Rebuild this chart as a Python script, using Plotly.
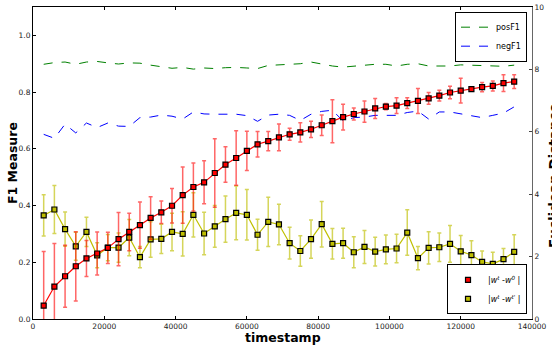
import plotly.graph_objects as go

timestamps = list(range(3000, 135001, 3000))

pos_f1 = [0.898, 0.904, 0.906, 0.898, 0.906, 0.908, 0.903, 0.899, 0.903, 0.902,
          0.895, 0.890, 0.884, 0.887, 0.881, 0.885, 0.883, 0.886, 0.887, 0.885,
          0.883, 0.894, 0.896, 0.900, 0.900, 0.906, 0.898, 0.892, 0.888, 0.892,
          0.894, 0.898, 0.898, 0.892, 0.898, 0.900, 0.892, 0.891, 0.892, 0.896,
          0.895, 0.892, 0.891, 0.891, 0.895]

neg_f1 = [0.651, 0.637, 0.687, 0.656, 0.691, 0.675, 0.691, 0.680, 0.679, 0.710,
          0.712, 0.719, 0.715, 0.705, 0.730, 0.723, 0.722, 0.722, 0.722, 0.717,
          0.697, 0.719, 0.722, 0.718, 0.700, 0.722, 0.732, 0.736, 0.698, 0.710,
          0.712, 0.718, 0.718, 0.718, 0.728, 0.733, 0.705, 0.730, 0.730, 0.723,
          0.715, 0.710, 0.718, 0.726, 0.748]

dist_w0 = [0.43, 1.04, 1.37, 1.69, 1.94, 2.10, 2.28, 2.56, 2.79, 3.01,
           3.24, 3.42, 3.63, 3.97, 4.23, 4.38, 4.68, 4.95, 5.16, 5.39,
           5.60, 5.70, 5.82, 5.92, 5.98, 6.08, 6.21, 6.34, 6.47, 6.57,
           6.65, 6.75, 6.81, 6.84, 6.92, 6.99, 7.07, 7.16, 7.26, 7.32,
           7.37, 7.43, 7.47, 7.56, 7.61]
err_w0 = [1.73, 1.38, 0.99, 1.11, 0.58, 0.69, 0.50, 0.85, 0.60, 0.74,
          0.68, 0.36, 0.55, 0.90, 0.77, 0.69, 1.10, 0.57, 0.87, 0.63,
          0.41, 0.31, 0.43, 0.19, 0.31, 0.26, 0.33, 0.69, 0.41, 0.19,
          0.34, 0.32, 0.10, 0.25, 0.17, 0.40, 0.19, 0.17, 0.20, 0.40,
          0.06, 0.15, 0.16, 0.27, 0.22]

dist_prev = [3.32, 3.51, 2.88, 2.33, 2.79, 2.04, 2.29, 2.29, 2.61, 1.98,
             2.55, 2.57, 2.79, 2.73, 3.34, 2.74, 2.97, 3.20, 3.40, 3.34,
             2.70, 3.11, 3.03, 2.43, 2.18, 2.56, 3.04, 2.41, 2.43, 2.14,
             2.31, 2.16, 2.23, 2.26, 2.77, 1.95, 2.28, 2.30, 2.41, 2.17,
             2.05, 1.83, 1.77, 1.92, 2.15]
err_prev = [0.66, 0.77, 0.55, 0.45, 0.47, 0.40, 0.42, 0.47, 0.58, 0.34,
            0.57, 0.47, 0.60, 0.71, 0.71, 0.68, 0.67, 0.74, 0.86, 0.81,
            0.50, 0.79, 0.65, 0.51, 0.49, 0.61, 0.73, 0.49, 0.48, 0.50,
            0.53, 0.46, 0.46, 0.46, 0.73, 0.37, 0.52, 0.46, 0.59, 0.51,
            0.46, 0.35, 0.37, 0.34, 0.55]

x_ticks = [0, 20000, 40000, 60000, 80000, 100000, 120000, 140000]
f1_ticks = [0.0, 0.2, 0.4, 0.6, 0.8, 1.0]
dist_ticks = [0, 2, 4, 6, 8, 10]

FONT = "DejaVu Sans"
RED = "#ff0000"
YEL = "#bfbf00"

fig = go.Figure()

fig.add_trace(go.Scatter(x=timestamps, y=pos_f1, mode="lines", name="posF1",
                         line=dict(color="#008000", dash="dash", width=1),
                         legend="legend"))
fig.add_trace(go.Scatter(x=timestamps, y=neg_f1, mode="lines", name="negF1",
                         line=dict(color="#0000ff", dash="dash", width=1),
                         legend="legend"))

fig.add_trace(go.Scatter(x=timestamps, y=dist_prev, yaxis="y2", mode="lines+markers",
                         line=dict(color=YEL, width=1.2),
                         marker=dict(symbol="square", size=5, color=YEL,
                                     line=dict(color="black", width=1.2)),
                         error_y=dict(type="data", array=err_prev, color="rgba(191,191,0,0.65)",
                                      thickness=1.5, width=2),
                         showlegend=False))
fig.add_trace(go.Scatter(x=timestamps, y=dist_w0, yaxis="y2", mode="lines+markers",
                         line=dict(color=RED, width=1.2),
                         marker=dict(symbol="square", size=5, color=RED,
                                     line=dict(color="black", width=1.2)),
                         error_y=dict(type="data", array=err_w0, color="rgba(255,0,0,0.6)",
                                      thickness=1.5, width=2),
                         showlegend=False))

# legend entries for the distance series (markers only, as in the reference)
fig.add_trace(go.Scatter(x=[None], y=[None], yaxis="y2", mode="markers",
                         name="|<i>w<sup>t</sup></i> -<i>w<sup>0</sup></i> |",
                         marker=dict(symbol="square", size=5, color=RED,
                                     line=dict(color="black", width=1.2)),
                         legend="legend2"))
fig.add_trace(go.Scatter(x=[None], y=[None], yaxis="y2", mode="markers",
                         name="|<i>w<sup>t</sup></i> -<i>w<sup>t'</sup></i> |",
                         marker=dict(symbol="square", size=5, color=YEL,
                                     line=dict(color="black", width=1.2)),
                         legend="legend2"))

tickfont = dict(family=FONT, size=7.5, color="#222")

fig.update_layout(
    width=552, height=345,
    margin=dict(l=33, r=20, t=7, b=26),
    paper_bgcolor="white", plot_bgcolor="white",
    font=dict(family=FONT, color="black"),
    xaxis=dict(range=[0, 140000], tickvals=x_ticks, ticktext=[str(v) for v in x_ticks],
               ticks="inside", ticklen=3, tickcolor="black", mirror="ticks",
               showline=True, linecolor="black", linewidth=1, showgrid=False,
               zeroline=False, tickfont=tickfont, automargin=False),
    yaxis=dict(range=[0, 1.1], tickvals=f1_ticks, ticktext=[f"{v:.1f}" for v in f1_ticks],
               ticks="inside", ticklen=3, tickcolor="black", automargin=False,
               showline=True, linecolor="black", linewidth=1, showgrid=False,
               zeroline=False, tickfont=tickfont),
    yaxis2=dict(range=[0, 10], tickvals=dist_ticks, ticktext=[str(v) for v in dist_ticks],
                overlaying="y", side="right", automargin=False,
                ticks="inside", ticklen=3, tickcolor="#444",
                showline=True, linecolor="#666", linewidth=1, showgrid=False,
                zeroline=False, tickfont=tickfont),
    legend=dict(x=0.99, y=0.985, xanchor="right", yanchor="top",
                bgcolor="white", bordercolor="black", borderwidth=1,
                font=dict(family=FONT, size=8), itemwidth=30,
                tracegroupgap=0),
    legend2=dict(x=0.99, y=0.015, xanchor="right", yanchor="bottom",
                 bgcolor="white", bordercolor="black", borderwidth=1,
                 font=dict(family=FONT, size=8), itemwidth=30,
                 tracegroupgap=0),
    annotations=[
        dict(text="<b>timestamp</b>", xref="paper", yref="paper", x=0.5, y=-0.03,
             xanchor="center", yanchor="top", showarrow=False,
             font=dict(family=FONT, size=12.5)),
        dict(text="<b>F1 Measure</b>", xref="paper", yref="paper", x=-0.042, y=0.5,
             xanchor="center", yanchor="middle", textangle=-90, showarrow=False,
             font=dict(family=FONT, size=12.5)),
        dict(text="<b>Euclidean Distance</b>", xref="paper", yref="paper", x=1.025, y=0.46,
             xanchor="left", yanchor="middle", textangle=-90, showarrow=False,
             font=dict(family=FONT, size=13.5)),
    ],
)

fig.write_html("out.html",
               config={"displayModeBar": False},
               post_script="document.body.style.margin='0';document.body.style.overflow='hidden';")
